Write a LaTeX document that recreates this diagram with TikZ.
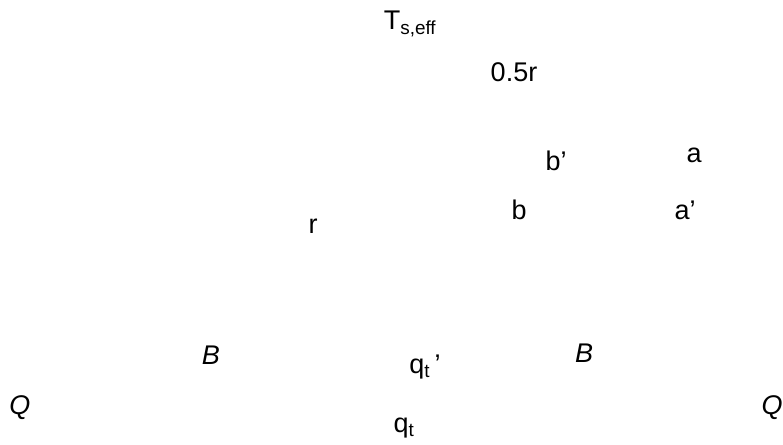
\documentclass[tikz,border=0pt]{standalone}
\usepackage{fontspec}
\setmainfont{Liberation Sans}

\begin{document}
\begin{tikzpicture}[line cap=round, line join=round, x=1pt, y=-1pt,
    lbl/.style={font=\fontsize{27}{29}\selectfont, inner sep=0pt}]
                \useasboundingbox (0,0) rectangle (783,444);
                \coordinate (teff) at (410,24);
                \coordinate (half) at (514,72);
                \coordinate (bp) at (556,161);
                \coordinate (a) at (694,155);
                \coordinate (b) at (519,210);
                \coordinate (ap) at (685,210);
                \coordinate (r) at (313,226);
                \coordinate (bl) at (211,355);
                \coordinate (br) at (584,353);
                \coordinate (qtp) at (425,367);
                \coordinate (ql) at (20,408);
                \coordinate (qr) at (772,408);
                \coordinate (qt) at (404,428);
                \foreach \point/\txt in {teff/{T\textsubscript{s,eff}}, half/{0.5r}, bp/{b'}, a/{a}, b/{b}, ap/{a'}, r/{r},
                    bl/{\textit{B}}, br/{\textit{B}}, qtp/{q\textsubscript{t}\,'}, ql/{\textit{Q}}, qr/{\textit{Q}}, qt/{q\textsubscript{t}}}
                    \node[lbl] (n\point) at (\point) {\txt};
            \end{tikzpicture}
\end{document}
